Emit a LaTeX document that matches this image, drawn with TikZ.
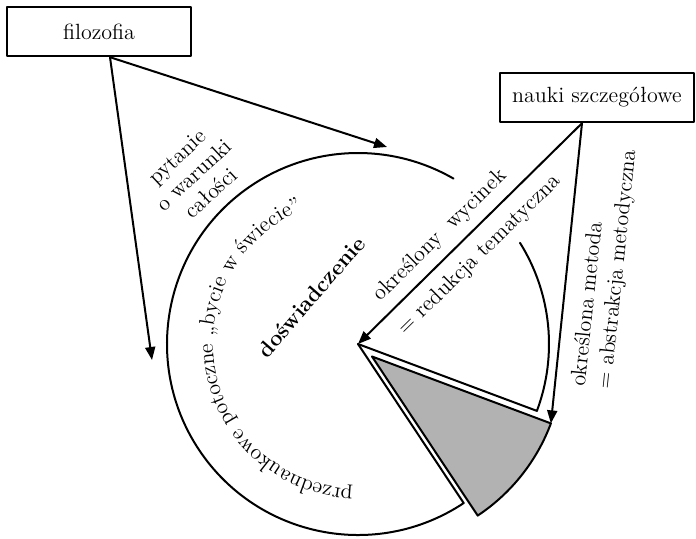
\documentclass[tikz,border=0pt]{standalone}
\usetikzlibrary{arrows.meta,decorations.text}
\newcommand\txtfont{\fontsize{11}{13}\selectfont}
\begin{document}
\begin{tikzpicture}[x=0.5pt,y=0.5pt,line join=round,line cap=round,>={Triangle[length=6.5pt,width=5pt]}]
    \tikzset{txt/.style={font=\txtfont},
        box/.style={draw,line width=1.2pt,minimum width=92pt,minimum height=24.5pt,txt},
        line/.style={line width=1pt}}
    \useasboundingbox (0,0) rectangle (696,538);
    \node[box] (filo) at (99,506.5) {filozofia};
    \node[box,minimum width=97pt] (nauki) at (597,440.5) {nauki szczegółowe};
    \coordinate (sr) at (358,194);
    \coordinate (gsr) at (372,181.5);
    \coordinate (f1) at (387,391);
    \coordinate (f2) at (152,178);
    \filldraw[line,fill=black!30] (gsr) -- ++(-20.5:191) coordinate (gkat)
        arc[start angle=-20.5,end angle=-56.4,radius=191] -- cycle;
    \draw[line] (sr) -- ++(-20.5:191) arc[start angle=-20.5,end angle=32,radius=191];
    \draw[line] (sr) -- ++(-56.4:191) arc[start angle=-56.4,end angle=-300,radius=191];
    \path[decorate,decoration={text along path,
        text={|\txtfont|przednaukowe potoczne „bycie w świecie”}}]
        (sr) ++(268:145) arc[start angle=268,end angle=100,radius=145];
    \node[txt,rotate=43,align=center,font=\fontsize{11}{12.4}\selectfont] (pyt) at (194,363) {pytanie\\o warunki\\całości};
    \node[font=\txtfont\bfseries,rotate=49] (dosw) at (311,241) {doświadczenie};
    \draw[line,->] ([xshift=5.5pt]filo.south) -- (f1);
    \draw[line,->] ([xshift=5.5pt]filo.south) -- (f2);
    \draw[line,->] ([xshift=-7.5pt]nauki.south) --
        node[txt,pos=.572,sloped,above=1pt] (wyc) {określony\ \ wycinek}
        node[txt,pos=.526,sloped,below=2.3pt] (red) {= redukcja tematyczna} (sr);
    \draw[line,->] ([xshift=-7.5pt]nauki.south) --
        node[txt,pos=.47,sloped,below=3.5pt,align=left] (met) {określona metoda\\= abstrakcja metodyczna} (gkat);
\end{tikzpicture}
\end{document}
